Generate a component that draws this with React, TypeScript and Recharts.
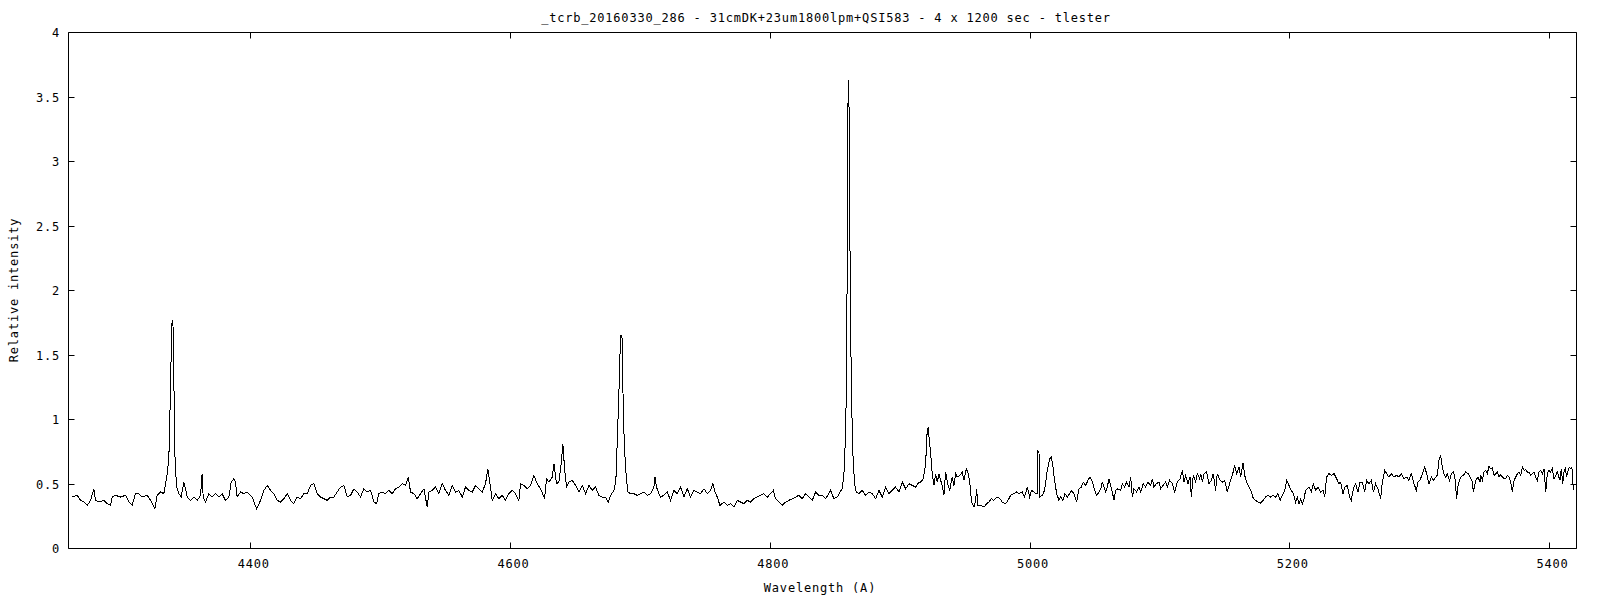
import { LineChart, Line, XAxis, YAxis, ReferenceArea } from 'recharts';

// spectrum, split by wavelength region: [wavelength (A), relative intensity]
const blueEnd: [number, number][] = [
  [4262.4, 0.399], [4266.3, 0.412], [4268.9, 0.373], [4271.4, 0.36], [4274.0, 0.334], [4276.6, 0.373],
  [4279.1, 0.463], [4280.4, 0.373], [4283.0, 0.36], [4286.8, 0.373], [4289.4, 0.347], [4292.0, 0.334],
  [4293.2, 0.399], [4295.8, 0.412], [4299.7, 0.399], [4303.5, 0.412], [4306.1, 0.36], [4308.6, 0.334],
  [4311.2, 0.425], [4313.8, 0.425], [4316.3, 0.399], [4320.2, 0.412], [4322.8, 0.373], [4326.1, 0.308],
  [4327.9, 0.412], [4330.5, 0.438], [4333.0, 0.425], [4335.6, 0.58], [4336.9, 0.709], [4338.2, 1.253],
  [4338.9, 1.65], [4339.4, 1.77], [4340.0, 1.77], [4340.7, 1.331], [4341.5, 0.735], [4342.8, 0.476],
  [4344.6, 0.425], [4346.4, 0.399], [4348.4, 0.515], [4349.7, 0.463], [4351.0, 0.399], [4353.6, 0.373],
  [4356.1, 0.399], [4358.7, 0.373], [4361.3, 0.412], [4362.5, 0.58], [4363.3, 0.399], [4365.1, 0.36],
  [4367.7, 0.425], [4370.2, 0.399], [4372.8, 0.425], [4375.4, 0.399], [4377.9, 0.425], [4380.5, 0.373],
  [4383.1, 0.399], [4384.9, 0.515], [4386.9, 0.541], [4388.2, 0.515], [4389.5, 0.399], [4392.1, 0.438],
  [4394.6, 0.425], [4397.2, 0.438], [4401.1, 0.399], [4404.4, 0.308], [4407.5, 0.373], [4410.0, 0.45],
  [4412.6, 0.489], [4415.2, 0.45], [4417.7, 0.425], [4420.3, 0.373], [4422.9, 0.36], [4425.4, 0.386],
  [4428.0, 0.425], [4430.6, 0.373], [4433.1, 0.347], [4435.7, 0.399], [4438.3, 0.386], [4440.8, 0.425],
  [4443.4, 0.425], [4446.0, 0.489], [4448.5, 0.502], [4451.1, 0.425], [4453.7, 0.399], [4456.2, 0.386],
  [4458.8, 0.373], [4461.4, 0.399], [4463.9, 0.399], [4466.5, 0.438], [4469.1, 0.476], [4471.7, 0.489],
  [4474.2, 0.399], [4476.8, 0.412], [4479.4, 0.463], [4481.9, 0.438], [4484.5, 0.399],
];

const heII: [number, number][] = [
  [4487.0, 0.463], [4489.6, 0.438], [4492.2, 0.45], [4494.8, 0.36], [4496.8, 0.347], [4498.6, 0.425],
  [4501.2, 0.438], [4503.7, 0.425], [4506.3, 0.45], [4508.9, 0.425], [4511.4, 0.463], [4514.0, 0.476],
  [4516.6, 0.502], [4519.1, 0.489], [4521.2, 0.554], [4523.0, 0.438], [4525.6, 0.425], [4528.1, 0.386],
  [4530.7, 0.425], [4533.3, 0.463], [4535.8, 0.321], [4537.1, 0.438], [4539.7, 0.45], [4542.2, 0.476],
  [4544.8, 0.425], [4547.4, 0.502], [4549.9, 0.45], [4552.5, 0.412], [4555.1, 0.489], [4557.6, 0.438],
  [4560.2, 0.45], [4562.8, 0.399], [4565.3, 0.476], [4567.9, 0.45], [4570.5, 0.438], [4573.0, 0.489],
  [4575.6, 0.463], [4578.2, 0.438], [4580.7, 0.502], [4582.5, 0.619], [4583.8, 0.528], [4585.9, 0.373],
  [4588.4, 0.425], [4591.0, 0.386], [4593.6, 0.412], [4596.1, 0.373], [4598.7, 0.425], [4601.3, 0.45],
  [4603.8, 0.425], [4606.4, 0.373], [4607.7, 0.502], [4610.3, 0.489], [4612.8, 0.463], [4615.4, 0.489],
  [4617.9, 0.567], [4620.5, 0.502], [4623.1, 0.463], [4626.2, 0.386], [4627.7, 0.541], [4629.5, 0.515],
  [4632.1, 0.554], [4633.4, 0.657], [4635.4, 0.502], [4637.2, 0.515], [4639.0, 0.657], [4640.3, 0.808],
  [4641.6, 0.619], [4643.1, 0.476], [4644.9, 0.515], [4647.5, 0.528], [4650.1, 0.489], [4652.6, 0.438],
  [4655.2, 0.489], [4657.8, 0.425], [4660.3, 0.489], [4662.9, 0.45], [4665.5, 0.476], [4668.0, 0.412],
  [4670.6, 0.399], [4673.2, 0.399], [4675.2, 0.36], [4677.0, 0.412], [4679.6, 0.45], [4681.1, 0.528],
  [4682.1, 0.813], [4683.4, 1.201], [4684.4, 1.55], [4684.9, 1.654], [4686.0, 1.628], [4686.8, 1.046],
  [4687.8, 0.761], [4689.1, 0.554], [4690.4, 0.438], [4692.4, 0.425], [4695.0, 0.425], [4697.5, 0.412],
];

const hBeta: [number, number][] = [
  [4700.1, 0.425], [4702.7, 0.438], [4705.2, 0.412], [4707.8, 0.425], [4710.4, 0.476], [4711.2, 0.554],
  [4712.4, 0.476], [4714.2, 0.425], [4715.5, 0.399], [4718.1, 0.412], [4720.6, 0.438], [4723.2, 0.373],
  [4725.8, 0.45], [4728.3, 0.425], [4730.9, 0.476], [4733.5, 0.399], [4736.1, 0.463], [4738.6, 0.399],
  [4741.2, 0.45], [4743.8, 0.438], [4746.3, 0.425], [4748.9, 0.463], [4751.5, 0.425], [4754.0, 0.45],
  [4755.8, 0.502], [4757.4, 0.438], [4759.2, 0.399], [4761.2, 0.334], [4764.3, 0.36], [4766.9, 0.334],
  [4769.4, 0.347], [4772.0, 0.321], [4774.6, 0.373], [4777.1, 0.36], [4779.7, 0.347], [4782.3, 0.373],
  [4784.8, 0.36], [4787.4, 0.386], [4790.0, 0.399], [4792.5, 0.412], [4795.1, 0.425], [4797.7, 0.399],
  [4800.2, 0.425], [4802.3, 0.45], [4804.1, 0.386], [4806.6, 0.36], [4809.2, 0.334], [4811.8, 0.36],
  [4814.3, 0.373], [4816.9, 0.386], [4819.5, 0.399], [4822.0, 0.412], [4824.6, 0.386], [4827.2, 0.425],
  [4829.7, 0.399], [4832.3, 0.373], [4834.9, 0.438], [4837.4, 0.412], [4840.0, 0.412], [4842.6, 0.386],
  [4845.1, 0.425], [4846.4, 0.45], [4849.0, 0.386], [4851.6, 0.399], [4853.6, 0.438], [4855.4, 0.463],
  [4856.7, 0.58], [4858.0, 0.891], [4858.8, 1.408], [4859.4, 2.6], [4859.9, 3.55], [4860.4, 3.63],
  [4861.0, 3.05], [4861.6, 1.9], [4862.6, 1.149], [4863.6, 0.735], [4864.9, 0.502], [4866.2, 0.438],
  [4868.3, 0.425], [4870.8, 0.45], [4873.4, 0.412], [4876.0, 0.438], [4878.5, 0.425], [4881.1, 0.386],
  [4883.7, 0.45], [4886.2, 0.399], [4888.8, 0.476], [4891.4, 0.425], [4893.9, 0.45], [4896.5, 0.476],
  [4899.1, 0.438], [4901.6, 0.515], [4904.2, 0.463], [4906.8, 0.502], [4909.3, 0.489], [4911.9, 0.476],
  [4914.5, 0.515],
];

const oIII: [number, number][] = [
  [4915.8, 0.515], [4917.8, 0.541], [4919.6, 0.657], [4920.9, 0.929], [4921.5, 0.937], [4922.2, 0.865],
  [4923.5, 0.735], [4924.7, 0.58], [4926.0, 0.489], [4927.3, 0.58], [4928.6, 0.515], [4929.9, 0.58],
  [4931.2, 0.528], [4932.4, 0.489], [4933.7, 0.412], [4935.0, 0.593], [4936.3, 0.515], [4938.1, 0.45],
  [4940.1, 0.554], [4941.4, 0.489], [4942.7, 0.58], [4944.0, 0.554], [4946.0, 0.567], [4947.8, 0.593],
  [4949.1, 0.528], [4950.9, 0.619], [4952.5, 0.58], [4953.7, 0.502], [4955.0, 0.36], [4956.8, 0.321],
  [4958.1, 0.373], [4958.9, 0.463], [4959.9, 0.334], [4962.0, 0.334], [4964.5, 0.321], [4966.6, 0.347],
  [4968.4, 0.36], [4970.2, 0.386], [4972.2, 0.373], [4974.8, 0.399], [4976.8, 0.386], [4978.6, 0.36],
  [4981.2, 0.347], [4983.0, 0.373], [4985.1, 0.412], [4987.6, 0.425], [4989.7, 0.438], [4991.5, 0.425],
  [4994.0, 0.438], [4995.8, 0.399], [4997.9, 0.476], [4999.7, 0.399], [5001.2, 0.45], [5003.0, 0.438],
  [5004.8, 0.425], [5005.6, 0.425], [5006.0, 0.756], [5006.9, 0.748], [5007.6, 0.399], [5009.4, 0.412],
  [5011.2, 0.45], [5013.3, 0.606], [5015.1, 0.696], [5016.4, 0.709], [5017.7, 0.632], [5018.9, 0.528],
  [5020.5, 0.425], [5022.3, 0.373], [5023.6, 0.399], [5025.4, 0.373], [5026.9, 0.425], [5028.7, 0.399],
  [5030.5, 0.425], [5032.0, 0.45], [5033.8, 0.425], [5035.9, 0.36], [5037.7, 0.463], [5039.5, 0.476],
  [5041.0, 0.515], [5042.8, 0.489], [5044.6, 0.528], [5046.2, 0.554], [5048.0, 0.515], [5049.8, 0.45],
  [5051.3, 0.412], [5053.1, 0.438], [5054.9, 0.476], [5055.6, 0.515], [5056.9, 0.476], [5058.2, 0.438],
  [5059.5, 0.476], [5060.8, 0.541], [5062.1, 0.489], [5063.4, 0.438], [5064.6, 0.373], [5065.9, 0.45],
  [5067.7, 0.463], [5069.8, 0.45], [5071.0, 0.502], [5072.8, 0.476], [5074.4, 0.515], [5076.2, 0.476],
  [5077.5, 0.554], [5078.8, 0.399], [5080.0, 0.463], [5082.1, 0.438], [5083.9, 0.476], [5085.2, 0.438],
  [5087.2, 0.502], [5089.0, 0.476], [5090.8, 0.515], [5092.9, 0.489], [5094.2, 0.541], [5095.4, 0.476],
  [5097.2, 0.502], [5099.3, 0.515], [5100.6, 0.463], [5102.4, 0.489], [5104.4, 0.515], [5105.7, 0.476],
  [5107.5, 0.528], [5109.6, 0.502], [5111.4, 0.438], [5113.4, 0.515], [5115.5, 0.541], [5117.3, 0.606],
  [5118.5, 0.515], [5119.8, 0.567], [5121.6, 0.502], [5123.2, 0.554], [5124.2, 0.399], [5125.7, 0.567],
  [5127.5, 0.515], [5128.8, 0.58], [5130.6, 0.541],
];

const greenMid: [number, number][] = [
  [5131.4, 0.58], [5132.7, 0.515], [5134.0, 0.58], [5136.0, 0.593], [5137.8, 0.502], [5139.6, 0.528],
  [5141.1, 0.58], [5142.9, 0.45], [5144.2, 0.58], [5146.3, 0.528], [5148.1, 0.515], [5149.9, 0.528],
  [5151.9, 0.438], [5154.0, 0.515], [5155.8, 0.567], [5157.6, 0.645], [5159.1, 0.58], [5160.9, 0.632],
  [5162.2, 0.554], [5164.0, 0.663], [5165.3, 0.567], [5166.8, 0.515], [5168.6, 0.476], [5170.4, 0.438],
  [5172.0, 0.386], [5173.7, 0.373], [5175.5, 0.36], [5177.6, 0.352], [5179.6, 0.373], [5181.4, 0.399],
  [5183.2, 0.412], [5185.3, 0.399], [5187.3, 0.412], [5189.1, 0.399], [5190.9, 0.425], [5192.5, 0.373],
  [5194.3, 0.412], [5196.1, 0.45], [5197.6, 0.528], [5199.4, 0.489], [5201.2, 0.45], [5202.7, 0.425],
  [5204.5, 0.36], [5205.8, 0.399], [5207.1, 0.347], [5208.4, 0.386], [5209.7, 0.347], [5211.0, 0.386],
  [5212.2, 0.45], [5214.8, 0.476], [5216.6, 0.438], [5218.1, 0.502], [5220.0, 0.45], [5221.7, 0.476],
  [5223.8, 0.438], [5225.8, 0.45], [5226.9, 0.399], [5228.4, 0.554], [5230.2, 0.58], [5232.0, 0.567],
  [5234.1, 0.58], [5236.1, 0.541], [5237.9, 0.502], [5239.2, 0.515], [5241.0, 0.425], [5242.5, 0.476],
  [5244.3, 0.489], [5246.1, 0.399], [5247.4, 0.373], [5249.0, 0.463], [5250.7, 0.502], [5252.5, 0.438],
  [5254.1, 0.515], [5255.9, 0.515], [5257.7, 0.438], [5259.2, 0.528], [5261.0, 0.502], [5262.8, 0.528],
  [5264.4, 0.438], [5266.1, 0.502], [5267.9, 0.463], [5270.0, 0.386], [5271.3, 0.515], [5273.1, 0.606],
  [5274.6, 0.58], [5276.4, 0.554], [5278.2, 0.58], [5280.3, 0.554], [5282.3, 0.567], [5284.1, 0.554],
  [5285.9, 0.58], [5288.0, 0.541], [5290.0, 0.554], [5291.8, 0.528], [5293.6, 0.58], [5295.7, 0.502],
  [5297.5, 0.45], [5298.8, 0.515], [5300.3, 0.528], [5302.1, 0.58], [5303.9, 0.632], [5305.4, 0.58],
  [5307.2, 0.502], [5309.0, 0.554], [5310.6, 0.528], [5312.4, 0.554], [5313.6, 0.567], [5314.9, 0.683],
  [5316.2, 0.722], [5317.5, 0.632], [5318.8, 0.58], [5320.1, 0.554], [5321.3, 0.58], [5323.1, 0.528],
  [5324.4, 0.58], [5326.0, 0.593], [5327.0, 0.567], [5328.5, 0.386], [5329.8, 0.502], [5331.6, 0.554],
  [5333.7, 0.567], [5335.5, 0.593], [5337.3, 0.58], [5338.8, 0.554], [5340.6, 0.515], [5341.4, 0.438],
  [5343.2, 0.528], [5345.0, 0.554], [5346.5, 0.515],
];

const redEnd: [number, number][] = [
  [5347.0, 0.567], [5348.3, 0.528], [5349.6, 0.593], [5350.9, 0.606], [5352.1, 0.58], [5353.4, 0.637],
  [5354.7, 0.619], [5356.0, 0.627], [5357.3, 0.567], [5358.6, 0.58], [5359.8, 0.593], [5361.1, 0.554],
  [5362.4, 0.575], [5363.7, 0.554], [5365.0, 0.541], [5366.3, 0.541], [5367.5, 0.567], [5368.8, 0.554],
  [5370.1, 0.515], [5371.4, 0.438], [5372.7, 0.528], [5374.0, 0.554], [5375.3, 0.58], [5376.5, 0.593],
  [5377.8, 0.567], [5379.1, 0.632], [5380.4, 0.606], [5381.7, 0.611], [5383.0, 0.593], [5384.2, 0.593],
  [5385.5, 0.567], [5386.8, 0.58], [5388.1, 0.593], [5389.4, 0.554], [5390.6, 0.528], [5391.9, 0.593],
  [5393.2, 0.606], [5394.5, 0.58], [5395.8, 0.619], [5397.1, 0.438], [5398.3, 0.58], [5399.6, 0.606],
  [5400.9, 0.593], [5402.2, 0.619], [5403.5, 0.541], [5404.8, 0.567], [5406.0, 0.593], [5406.8, 0.567],
  [5408.1, 0.528], [5409.1, 0.619], [5410.2, 0.502], [5411.2, 0.593], [5412.2, 0.619], [5413.2, 0.554],
  [5414.3, 0.606], [5415.3, 0.627], [5416.3, 0.619], [5417.3, 0.627], [5418.4, 0.45],
];

const xTicks = [4400, 4600, 4800, 5000, 5200, 5400];
const yTicks = [0, 0.5, 1, 1.5, 2, 2.5, 3, 3.5, 4];
const xDomain: [number, number] = [4259.6, 5420.8];
const yDomain: [number, number] = [0, 4];

const title = '_tcrb_20160330_286 - 31cmDK+23um1800lpm+QSI583 - 4 x 1200 sec - tlester';
const xLabel = 'Wavelength (A)';
const yLabel = 'Relative intensity';

const data = [...blueEnd, ...heII, ...hBeta, ...oIII, ...greenMid, ...redEnd].map(([wl, rel]) => ({ wl, rel }));

// plot box in page pixels (half-pixel so 1px strokes stay crisp)
const LEFT = 68.5;
const RIGHT = 1576.5;
const TOP = 32.5;
const BOTTOM = 548.5;
const TIC = 6;

const font = {
  fontFamily: '"DejaVu Sans Mono", monospace',
  fontSize: 12,
  letterSpacing: 0.8,
  fill: '#000',
};

const snap = (v: number) => Math.round(v - 0.5) + 0.5;

const XTick = ({ x, payload }: any) => {
  const px = snap(x);
  return (
    <g>
      <line x1={px} x2={px} y1={BOTTOM} y2={BOTTOM - TIC} stroke="#000" />
      <line x1={px} x2={px} y1={TOP} y2={TOP + TIC} stroke="#000" />
      <text x={x + 3} y={568} textAnchor="middle" {...font}>{payload.value}</text>
    </g>
  );
};

const YTick = ({ y, payload }: any) => {
  const py = snap(y);
  return (
    <g>
      <line x1={LEFT} x2={LEFT + TIC} y1={py} y2={py} stroke="#000" />
      <line x1={RIGHT - TIC} x2={RIGHT} y1={py} y2={py} stroke="#000" />
      <text x={60} y={y + 4.5} textAnchor="end" {...font}>{payload.value}</text>
    </g>
  );
};

export default function App() {
  return (
    <div style={{ position: 'absolute', left: 0, top: 0, width: 1600, height: 600, background: '#fff' }}>
      <LineChart
        width={1600}
        height={600}
        data={data}
        margin={{ top: TOP, right: 1600 - RIGHT, bottom: 0, left: 0 }}
      >
        <XAxis
          dataKey="wl"
          type="number"
          domain={xDomain}
          ticks={xTicks}
          interval={0}
          allowDataOverflow
          height={600 - BOTTOM}
          axisLine={false}
          tickLine={false}
          tick={XTick}
        />
        <YAxis
          type="number"
          domain={yDomain}
          ticks={yTicks}
          interval={0}
          allowDataOverflow
          width={LEFT}
          axisLine={false}
          tickLine={false}
          tick={YTick}
        />
        <ReferenceArea
          x1={xDomain[0]}
          x2={xDomain[1]}
          y1={yDomain[0]}
          y2={yDomain[1]}
          fill="none"
          fillOpacity={0}
          stroke="#000"
          strokeWidth={1}
          ifOverflow="visible"
        />
        <Line
          type="linear"
          dataKey="rel"
          stroke="#000"
          strokeWidth={1}
          shapeRendering="crispEdges"
          dot={false}
          activeDot={false}
          isAnimationActive={false}
        />
      </LineChart>
      <svg width={1600} height={600} style={{ position: 'absolute', left: 0, top: 0, pointerEvents: 'none' }}>
        <text x={826} y={21.5} textAnchor="middle" {...font}>{title}</text>
        <text x={820} y={592} textAnchor="middle" {...font}>{xLabel}</text>
        <text x={18} y={290} textAnchor="middle" transform="rotate(-90 18 290)" {...font}>{yLabel}</text>
      </svg>
    </div>
  );
}
